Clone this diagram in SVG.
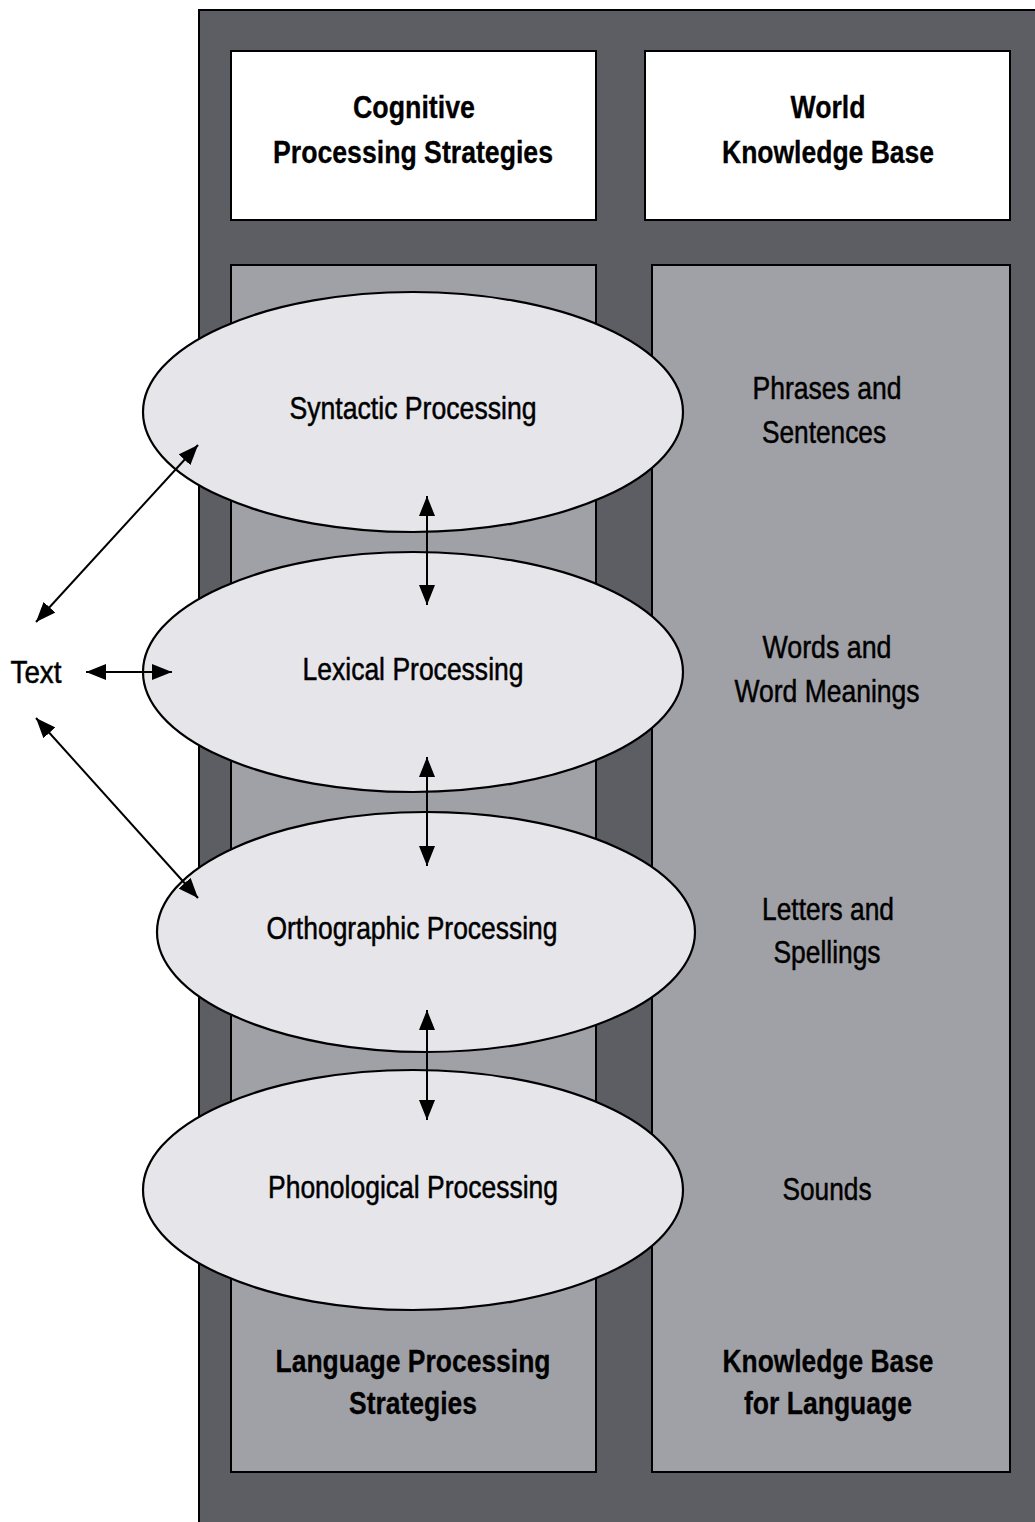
<svg xmlns="http://www.w3.org/2000/svg" width="1035" height="1522" viewBox="0 0 1035 1522">
  <style>
    .frame { fill: #5c5e63; stroke: #000; stroke-width: 2; }
    .head { fill: #ffffff; stroke: #000; stroke-width: 2; }
    .col { fill: #a0a1a6; stroke: #000; stroke-width: 2; }
    .proc { fill: #e6e5ea; stroke: #000; stroke-width: 2.2; }
    text { font-family: "Liberation Sans", Arial, sans-serif; font-size: 32px; fill: #000; stroke: #000; stroke-width: 0.5; text-anchor: middle; }
    .b { font-weight: bold; stroke-width: 0.3; }
    .link { stroke: #000; stroke-width: 2; fill: none; marker-start: url(#tip); marker-end: url(#tip); }
  </style>
  <defs>
    <marker id="tip" viewBox="0 0 20 16" refX="20" refY="8" markerWidth="20" markerHeight="16" markerUnits="userSpaceOnUse" orient="auto-start-reverse">
      <path d="M0,0 L20,8 L0,16 Z" fill="#000"/>
    </marker>
  </defs>

  <rect width="1035" height="1522" fill="#ffffff"/>

  <!-- outer frame -->
  <g id="frame">
    <rect class="frame" x="199" y="10" width="900" height="1600"/>
  </g>

  <!-- header boxes -->
  <g id="cognitive">
    <rect class="head" x="231" y="51" width="365" height="169"/>
    <text class="b" x="414" y="118" textLength="122" lengthAdjust="spacingAndGlyphs">Cognitive</text>
    <text class="b" x="413" y="163" textLength="280" lengthAdjust="spacingAndGlyphs">Processing Strategies</text>
  </g>
  <g id="world">
    <rect class="head" x="645" y="51" width="365" height="169"/>
    <text class="b" x="828" y="118" textLength="75" lengthAdjust="spacingAndGlyphs">World</text>
    <text class="b" x="828" y="163" textLength="212" lengthAdjust="spacingAndGlyphs">Knowledge Base</text>
  </g>

  <!-- columns -->
  <g id="language-strategies">
    <rect class="col" x="231" y="265" width="365" height="1207"/>
    <text class="b" x="413" y="1372" textLength="275" lengthAdjust="spacingAndGlyphs">Language Processing</text>
    <text class="b" x="413" y="1414" textLength="128" lengthAdjust="spacingAndGlyphs">Strategies</text>
  </g>
  <g id="language-knowledge">
    <rect class="col" x="652" y="265" width="358" height="1207"/>
    <text class="b" x="828" y="1372" textLength="211" lengthAdjust="spacingAndGlyphs">Knowledge Base</text>
    <text class="b" x="828" y="1414" textLength="168" lengthAdjust="spacingAndGlyphs">for Language</text>
    <text x="827" y="399" textLength="149" lengthAdjust="spacingAndGlyphs">Phrases and</text>
    <text x="824" y="443" textLength="124" lengthAdjust="spacingAndGlyphs">Sentences</text>
    <text x="827" y="658" textLength="129" lengthAdjust="spacingAndGlyphs">Words and</text>
    <text x="827" y="702" textLength="185" lengthAdjust="spacingAndGlyphs">Word Meanings</text>
    <text x="828" y="920" textLength="132" lengthAdjust="spacingAndGlyphs">Letters and</text>
    <text x="827" y="963" textLength="107" lengthAdjust="spacingAndGlyphs">Spellings</text>
    <text x="827" y="1200" textLength="89" lengthAdjust="spacingAndGlyphs">Sounds</text>
  </g>

  <!-- processing ellipses -->
  <g id="syntactic">
    <ellipse class="proc" cx="413" cy="412" rx="270" ry="120"/>
    <text x="413" y="419" textLength="247" lengthAdjust="spacingAndGlyphs">Syntactic Processing</text>
  </g>
  <g id="lexical">
    <ellipse class="proc" cx="413" cy="672" rx="270" ry="120"/>
    <text x="413" y="680" textLength="221" lengthAdjust="spacingAndGlyphs">Lexical Processing</text>
  </g>
  <g id="orthographic">
    <ellipse class="proc" cx="426" cy="932" rx="269" ry="120"/>
    <text x="412" y="939" textLength="291" lengthAdjust="spacingAndGlyphs">Orthographic Processing</text>
  </g>
  <g id="phonological">
    <ellipse class="proc" cx="413" cy="1190" rx="270" ry="120"/>
    <text x="413" y="1198" textLength="290" lengthAdjust="spacingAndGlyphs">Phonological Processing</text>
  </g>

  <!-- input label -->
  <g id="text-input">
    <text x="36" y="683" textLength="51" lengthAdjust="spacingAndGlyphs">Text</text>
  </g>

  <!-- connectors -->
  <g id="connectors">
    <line class="link" x1="36" y1="622" x2="198" y2="445"/>
    <line class="link" x1="86" y1="672" x2="172" y2="672"/>
    <line class="link" x1="36" y1="718" x2="198" y2="898"/>
    <line class="link" x1="427" y1="496" x2="427" y2="605"/>
    <line class="link" x1="427" y1="757" x2="427" y2="866"/>
    <line class="link" x1="427" y1="1010" x2="427" y2="1120"/>
  </g>
</svg>
